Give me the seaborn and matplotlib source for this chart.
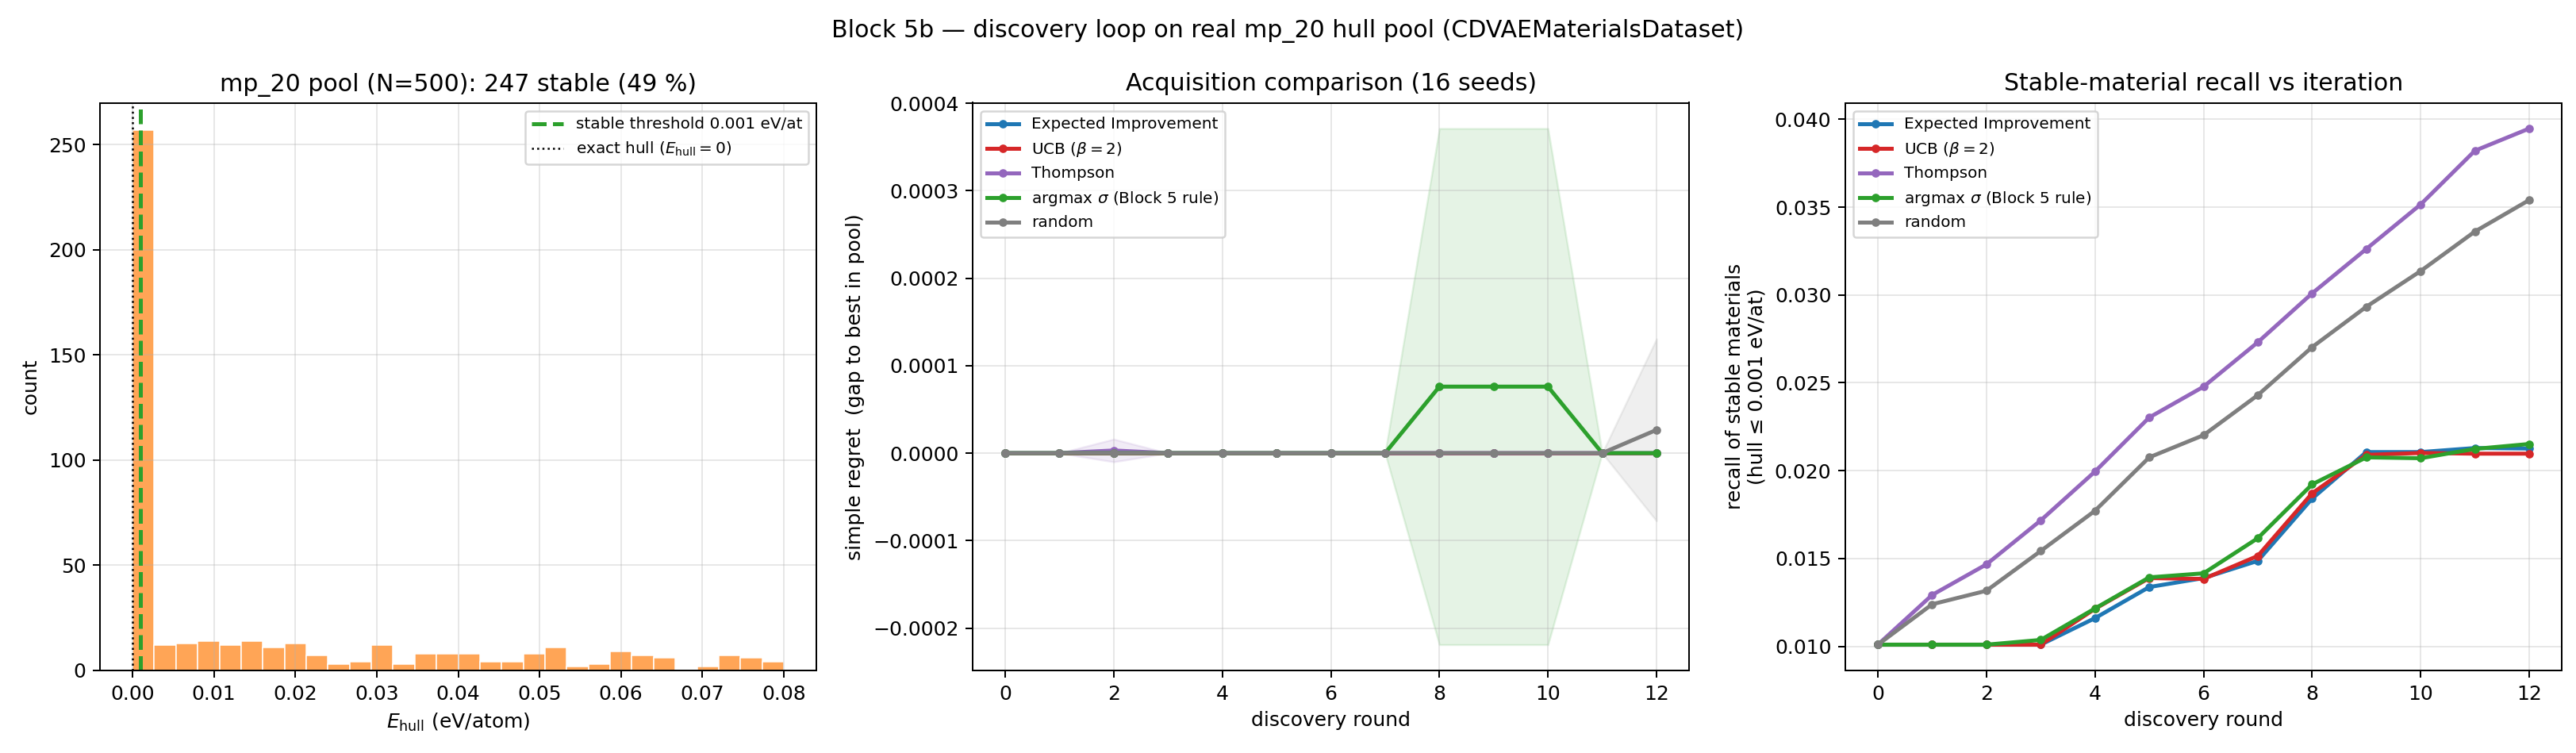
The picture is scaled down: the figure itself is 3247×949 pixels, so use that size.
import numpy as np
import pandas as pd
import matplotlib
matplotlib.use("Agg")
import matplotlib.pyplot as plt
import seaborn as sns

# E_hull histogram of the mp_20 pool (counts per bin, 30 bins on [0, 0.08])
n_bins = 30
hist_range = (0.0, 0.08)
hist_counts = [257, 12, 13, 14, 12, 14, 11, 13, 7, 3,
               4, 12, 3, 8, 8, 8, 4, 4, 8, 11,
               2, 3, 9, 7, 6, 0, 2, 7, 6, 4]
stable_thr = 0.001

rounds = list(range(13))
methods = ["Expected Improvement", r"UCB ($\beta=2$)", "Thompson",
           r"argmax $\sigma$ (Block 5 rule)", "random"]
colors = ["tab:blue", "tab:red", "tab:purple", "tab:green", "tab:gray"]

# simple regret, mean and std over 16 seeds
regret_ei = [0.0] * 13
regret_ucb = [0.0] * 13
regret_ts = [0, 0, 3e-6, 0, 0, 0, 0, 0, 0, 0, 0, 0, 0]
regret_sig = [0, 0, 0, 0, 0, 0, 0, 0, 7.6e-5, 7.6e-5, 7.6e-5, 0, 0]
regret_rand = [0, 0, 0, 0, 0, 0, 0, 0, 0, 0, 0, 0, 2.65e-5]
regret_ei_sd = [0.0] * 13
regret_ucb_sd = [0.0] * 13
regret_ts_sd = [0, 0, 1.3e-5, 0, 0, 0, 0, 0, 0, 0, 0, 0, 0]
regret_sig_sd = [0, 0, 0, 0, 0, 0, 0, 0, 2.95e-4, 2.95e-4, 2.95e-4, 0, 0]
regret_rand_sd = [0, 0, 0, 0, 0, 0, 0, 0, 0, 0, 0, 0, 1.04e-4]

# recall of stable materials
recall_ei = [0.0101, 0.0101, 0.0101, 0.0101, 0.01161, 0.01338, 0.01389,
             0.01487, 0.01841, 0.02106, 0.02106, 0.02129, 0.02126]
recall_ucb = [0.0101, 0.0101, 0.0101, 0.0101, 0.01214, 0.01389, 0.01384,
              0.01515, 0.01871, 0.02090, 0.02101, 0.02097, 0.02097]
recall_ts = [0.0101, 0.01293, 0.01467, 0.01717, 0.01995, 0.02303, 0.02478,
             0.02731, 0.03009, 0.03262, 0.03515, 0.03821, 0.03947]
recall_sig = [0.0101, 0.0101, 0.0101, 0.01037, 0.01216, 0.01393, 0.01416,
              0.01616, 0.01922, 0.02076, 0.02071, 0.02124, 0.02152]
recall_rand = [0.0101, 0.01240, 0.01317, 0.01543, 0.01772, 0.02076, 0.02202,
               0.0243, 0.02703, 0.02933, 0.03136, 0.03361, 0.0354]

regret_means = [regret_ei, regret_ucb, regret_ts, regret_sig, regret_rand]
regret_sds = [regret_ei_sd, regret_ucb_sd, regret_ts_sd, regret_sig_sd, regret_rand_sd]
recalls = [recall_ei, recall_ucb, recall_ts, recall_sig, recall_rand]

plt.rcParams["font.family"] = ["DejaVu Sans"]
plt.rcParams["font.size"] = 10

W, H = 3247, 949
fig, axes = plt.subplots(1, 3, figsize=(W / 180, H / 180), dpi=180)
ax_w = 903 / W
ax_h = (845 - 129.5) / H
ax_b = 1 - 845 / H
for ax, x0 in zip(axes, [126, 1226, 2326]):
    ax.set_position([x0 / W, ax_b, ax_w, ax_h])

# panel 1: histogram
ax = axes[0]
step = (hist_range[1] - hist_range[0]) / n_bins
centers = hist_range[0] + step * (np.arange(n_bins) + 0.5)
hist_df = pd.DataFrame({"ehull": centers, "n": hist_counts})
sns.histplot(data=hist_df, x="ehull", weights="n", bins=n_bins,
             binrange=hist_range, ax=ax,
             color="tab:orange", alpha=0.7, edgecolor="white", linewidth=0.6)
ax.axvline(stable_thr, color="tab:green", ls="--", lw=2,
           label=f"stable threshold {stable_thr} eV/at")
ax.axvline(0.0, color="black", ls=":", lw=1,
           label=r"exact hull ($E_{\rm hull}=0$)")
ax.set_xlabel(r"$E_{\rm hull}$ (eV/atom)")
ax.set_ylabel("count")
ax.set_title("mp_20 pool (N=500): 247 stable (49 %)")
ax.legend(fontsize=8, loc="upper right")
ax.grid(alpha=0.3)

# panel 2: simple regret
ax = axes[1]
for name, c, m, s in zip(methods, colors, regret_means, regret_sds):
    m = np.array(m)
    s = np.array(s)
    sns.lineplot(x=rounds, y=m, ax=ax, color=c, lw=2, marker="o", ms=3.5,
                 markeredgecolor=c, label=name)
    ax.fill_between(rounds, m - s, m + s, color=c, alpha=0.12)
ax.set_xlabel("discovery round")
ax.set_ylabel("simple regret  (gap to best in pool)")
ax.set_title("Acquisition comparison (16 seeds)")
ax.legend(fontsize=8, loc="upper left")
ax.grid(alpha=0.3)

# panel 3: recall
ax = axes[2]
for name, c, r in zip(methods, colors, recalls):
    sns.lineplot(x=rounds, y=r, ax=ax, color=c, lw=2, marker="o", ms=3.5,
                 markeredgecolor=c, label=name)
ax.set_xlabel("discovery round")
ax.set_ylabel("recall of stable materials\n(hull ≤ 0.001 eV/at)")
ax.set_title("Stable-material recall vs iteration")
ax.legend(fontsize=8, loc="upper left")
ax.grid(alpha=0.3)

for ax in axes[1:]:
    ax.set_xticks(range(0, 13, 2))

fig.suptitle("Block 5b — discovery loop on real mp_20 hull pool (CDVAEMaterialsDataset)",
             fontsize=12, y=0.975)
fig.savefig("out.png", dpi=180)
